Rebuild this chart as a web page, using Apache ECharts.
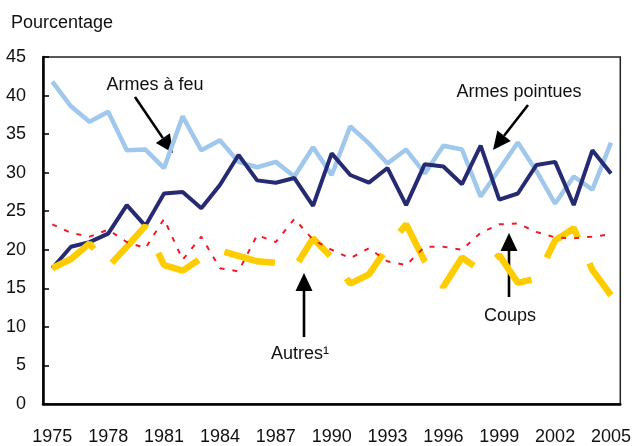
<!DOCTYPE html>
<html>
<head>
<meta charset="utf-8">
<script src="https://cdn.jsdelivr.net/npm/echarts@6/dist/echarts.min.js"></script>
<style>
  html, body { margin: 0; padding: 0; background: #fff; }
  #chart { width: 634px; height: 446px; }
</style>
</head>
<body>
<div id="chart"></div>
<script>
const years = ['1975', '1976', '1977', '1978', '1979', '1980', '1981', '1982', '1983', '1984',
  '1985', '1986', '1987', '1988', '1989', '1990', '1991', '1992', '1993', '1994',
  '1995', '1996', '1997', '1998', '1999', '2000', '2001', '2002', '2003', '2004', '2005']

const armesFeu = [41.8, 38.6, 36.6, 37.9, 32.9, 33.0, 30.6, 37.3, 32.9, 34.2,
  31.4, 30.7, 31.4, 29.5, 33.3, 29.7, 36.0, 33.8, 31.2, 33.0,
  29.9, 33.5, 33.0, 26.9, 30.4, 33.9, 30.2, 26.0, 29.5, 27.8, 33.9]

const armesPointues = [17.6, 20.4, 21.0, 22.1, 25.8, 23.1, 27.3, 27.5, 25.4, 28.4,
  32.3, 29.0, 28.7, 29.3, 25.7, 32.5, 29.7, 28.7, 30.6, 25.8,
  31.1, 30.8, 28.5, 33.5, 26.5, 27.3, 31.0, 31.4, 25.8, 32.9, 29.9]

const autres = [17.6, 18.8, 20.8, 17.8, 20.4, 23.1, 18.0, 17.3, 18.9, 19.9,
  19.2, 18.5, 18.3, 17.6, 21.5, 19.0, 15.6, 16.8, 20.3, 23.3,
  18.5, 15.2, 19.0, 17.3, 19.3, 15.7, 16.3, 21.2, 22.8, 17.4, 14.1]

const coups = [23.3, 22.2, 21.7, 22.6, 21.0, 20.2, 24.0, 18.7, 21.7, 17.6,
  17.2, 21.9, 21.0, 24.0, 21.3, 20.0, 18.9, 20.2, 18.5, 18.0,
  20.4, 20.4, 20.0, 22.2, 23.3, 23.4, 22.3, 21.6, 21.5, 21.7, 22.0]

const FONT = '"Liberation Sans", Arial, sans-serif'

// arrow: shaft + triangular head, tip at (x2, y2)
function arrow(x1, y1, x2, y2) {
  const ang = Math.atan2(y2 - y1, x2 - x1)
  const len = 18, half = 8.5
  const bx = x2 - len * Math.cos(ang), by = y2 - len * Math.sin(ang)
  const px = -Math.sin(ang) * half, py = Math.cos(ang) * half
  return [
    { type: 'line', shape: { x1, y1, x2: bx, y2: by }, style: { stroke: '#000', lineWidth: 2.6 } },
    { type: 'polygon', shape: { points: [[x2, y2], [bx + px, by + py], [bx - px, by - py]] }, style: { fill: '#000' } }
  ]
}

function label(text, x, y) {
  return {
    type: 'text', x, y,
    style: { text, font: '18px ' + FONT, fill: '#111', textAlign: 'center', textVerticalAlign: 'middle' }
  }
}

const chart = echarts.init(document.getElementById('chart'))

const option = {
  animation: false,
  title: {
    text: 'Pourcentage',
    left: 6, top: 9,
    textStyle: { fontFamily: FONT, fontSize: 18, fontWeight: 'normal', color: '#111' }
  },
  grid: {
    left: 43, right: 13, top: 57, bottom: 42,
    show: true, borderColor: '#222', borderWidth: 1.5, backgroundColor: 'transparent'
  },
  xAxis: {
    type: 'category',
    data: years,
    boundaryGap: true,
    axisLine: { lineStyle: { color: '#000', width: 2.5 } },
    axisTick: { inside: true, length: 6, interval: 0, lineStyle: { color: '#000', width: 1.5 } },
    axisLabel: { interval: 2, margin: 24, fontFamily: FONT, fontSize: 18, color: '#111' },
    splitLine: { show: false }
  },
  yAxis: {
    type: 'value',
    min: 0, max: 45, interval: 5,
    axisLine: { show: true, lineStyle: { color: '#000', width: 2.5 } },
    axisTick: { show: true, inside: true, length: 6, lineStyle: { color: '#000', width: 1.5 } },
    axisLabel: { margin: 17, fontFamily: FONT, fontSize: 18, color: '#111' },
    splitLine: { show: false }
  },
  series: [
    {
      name: 'Armes à feu', type: 'line', data: armesFeu,
      symbol: 'none', z: 2,
      lineStyle: { color: '#9fc8ec', width: 4.5 }
    },
    {
      name: 'Armes pointues', type: 'line', data: armesPointues,
      symbol: 'none', z: 3,
      lineStyle: { color: '#262a72', width: 4 }
    },
    {
      name: 'Autres', type: 'line', data: autres,
      symbol: 'none', z: 4,
      lineStyle: { color: '#ffcc00', width: 6.5, type: [52, 28], cap: 'butt' }
    },
    {
      name: 'Coups', type: 'line', data: coups,
      symbol: 'none', z: 5,
      lineStyle: { color: '#ee1c25', width: 2, type: [5, 8] }
    }
  ],
  graphic: [
    label('Armes à feu', 155, 85),
    label('Armes pointues', 519, 92),
    label('Autres\u00b9', 300, 354),
    label('Coups', 510, 316),
    ...arrow(135, 97, 173, 153),
    ...arrow(528, 105, 493, 150),
    ...arrow(304, 337, 304, 273),
    ...arrow(509, 297, 509, 233)
  ]
}

chart.setOption(option)
</script>
</body>
</html>
